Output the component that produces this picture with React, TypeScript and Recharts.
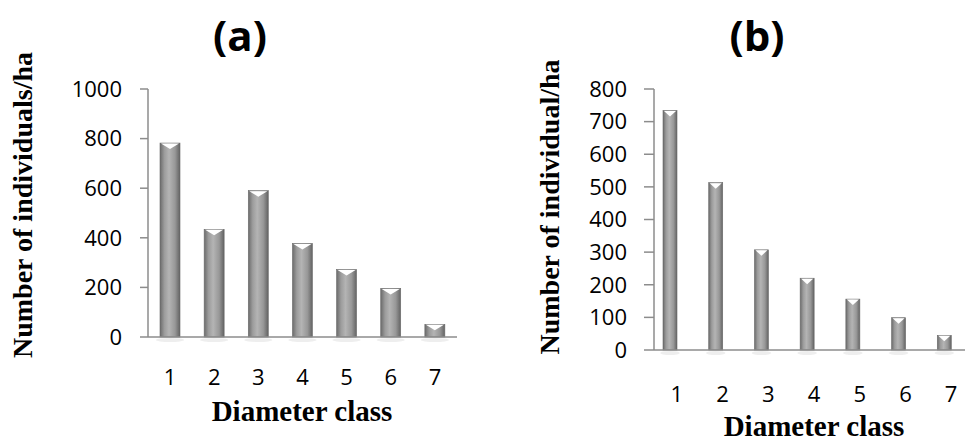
import { BarChart, Bar, XAxis, YAxis } from 'recharts'

const classes = ['1', '2', '3', '4', '5', '6', '7']
const densityA = [782, 434, 590, 377, 272, 196, 51]
const densityB = [734, 513, 307, 220, 156, 99, 45]
const ticksA = [0, 200, 400, 600, 800, 1000]
const ticksB = [0, 100, 200, 300, 400, 500, 600, 700, 800]

const dataA = classes.map((c, i) => ({ cls: c, value: densityA[i] }))
const dataB = classes.map((c, i) => ({ cls: c, value: densityB[i] }))

const serif = '"Liberation Serif", "Times New Roman", serif'
const sans = '"Open Sans", "Liberation Sans", sans-serif'
const axisGray = '#8c8c8c'

// cylinder-ish bar with white notch on top, like the Excel style
const CylinderBar = (props: any) => {
  const { x, y, width, height, gid } = props
  if (!height || height <= 0) return null
  const notch = Math.min(6, height)
  return (
    <g>
      <ellipse cx={x + width / 2} cy={y + height + 3} rx={width * 0.7} ry={2} fill="#e2e2e2" opacity={0.6} />
      <rect x={x} y={y} width={width} height={height} fill={`url(#${gid})`} stroke="#6a6a6a" strokeWidth={0.6} />
      <polygon points={`${x + 1},${y + 0.5} ${x + width - 1},${y + 0.5} ${x + width / 2},${y + notch}`} fill="#ffffff" />
    </g>
  )
}

const Grad = ({ id }: { id: string }) => (
  <defs>
    <linearGradient id={id} x1="0" y1="0" x2="1" y2="0">
      <stop offset="0%" stopColor="#6b6b6b" />
      <stop offset="22%" stopColor="#9c9c9c" />
      <stop offset="45%" stopColor="#b4b4b4" />
      <stop offset="75%" stopColor="#989898" />
      <stop offset="100%" stopColor="#636363" />
    </linearGradient>
  </defs>
)

const tickStyle = { fill: '#000', fontSize: 22, fontFamily: sans }

const abs = (left: number, top: number, extra: any = {}) => ({
  position: 'absolute' as const,
  left,
  top,
  transform: 'translate(-50%, -50%)',
  whiteSpace: 'nowrap' as const,
  lineHeight: 1,
  ...extra,
})

export default function App() {
  return (
    <div style={{ position: 'fixed', left: 0, top: 0, width: 965, height: 440, overflow: 'hidden', background: '#fff' }}>
      <div style={{ position: 'absolute', left: 0, top: 0 }}>
        <BarChart width={480} height={440} data={dataA} barSize={20} margin={{ top: 89, right: 23, bottom: 73, left: 88 }}>
          <Grad id="gradA" />
          <XAxis dataKey="cls" tickLine={false} axisLine={{ stroke: axisGray, strokeWidth: 1.5 }} tick={tickStyle} tickMargin={26} height={30} />
          <YAxis domain={[0, 1000]} ticks={ticksA} width={60} tickSize={8} tickMargin={18} axisLine={{ stroke: axisGray, strokeWidth: 1.5 }} tickLine={{ stroke: axisGray, strokeWidth: 1.5 }} tick={tickStyle} />
          <Bar dataKey="value" isAnimationActive={false} shape={(p: any) => <CylinderBar {...p} gid="gradA" />} />
        </BarChart>
      </div>
      <div style={{ position: 'absolute', left: 490, top: 0 }}>
        <BarChart width={490} height={440} data={dataB} barSize={14} margin={{ top: 89, right: 6, bottom: 60, left: 104 }}>
          <Grad id="gradB" />
          <XAxis dataKey="cls" tickLine={false} padding={{ left: -7, right: 7 }} axisLine={{ stroke: axisGray, strokeWidth: 1.5 }} tick={{ ...tickStyle, dx: 7 }} tickMargin={30} height={30} />
          <YAxis domain={[0, 800]} ticks={ticksB} width={60} tickSize={10} tickMargin={17} axisLine={{ stroke: axisGray, strokeWidth: 1.5 }} tickLine={{ stroke: axisGray, strokeWidth: 1.5 }} tick={tickStyle} />
          <Bar dataKey="value" isAnimationActive={false} shape={(p: any) => <CylinderBar {...p} gid="gradB" />} />
        </BarChart>
      </div>

      <div style={abs(240, 35, { fontFamily: sans, fontWeight: 700, fontSize: 42 })}>(a)</div>
      <div style={abs(757, 35, { fontFamily: sans, fontWeight: 700, fontSize: 42 })}>(b)</div>

      <div style={abs(23, 205, { fontFamily: serif, fontWeight: 700, fontSize: 28, transform: 'translate(-50%, -50%) rotate(-90deg)' })}>Number of individuals/ha</div>
      <div style={abs(550, 207, { fontFamily: serif, fontWeight: 700, fontSize: 28, transform: 'translate(-50%, -50%) rotate(-90deg)' })}>Number of individual/ha</div>

      <div style={abs(302, 411, { fontFamily: serif, fontWeight: 700, fontSize: 29 })}>Diameter class</div>
      <div style={abs(814, 426, { fontFamily: serif, fontWeight: 700, fontSize: 29 })}>Diameter class</div>
    </div>
  )
}
